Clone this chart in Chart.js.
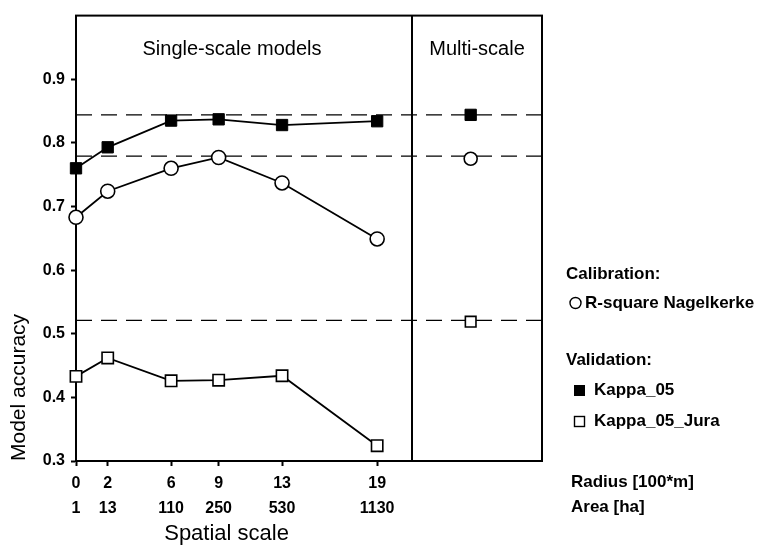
<!DOCTYPE html>
<html>
<head>
<meta charset="utf-8">
<script src="https://cdn.jsdelivr.net/npm/chart.js@4"></script>
<style>
  html, body { margin: 0; padding: 0; background: #fff; }
</style>
</head>
<body>
<canvas id="chart_acc" width="765" height="546"></canvas>
<script>
// spatial scale: radius [100*m] and the matching area [ha]
var radius = [0, 2, 6, 9, 13, 19];
var area = [1, 13, 110, 250, 530, 1130];

// single-scale model accuracy
var kappa05 = [0.760, 0.793, 0.835, 0.837, 0.828, 0.834];
var rsquare = [0.683, 0.724, 0.760, 0.777, 0.737, 0.649];
var kappaJura = [0.433, 0.462, 0.426, 0.427, 0.434, 0.324];

// multi-scale model accuracy
var multiKappa05 = 0.844;
var multiRsquare = 0.775;
var multiKappaJura = 0.519;

// dashed lines = multi-scale level
var refLines = [0.844, 0.779, 0.521];

var yTicks = [0.3, 0.4, 0.5, 0.6, 0.7, 0.8, 0.9];

// x axis layout (radius units)
var xMin = 0, xMax = 29.4;
var dividerX = 21.2;
var multiX = 24.9;

var FONT = '"Liberation Sans", Arial, sans-serif';

function pts(values) {
    return values.map(function (v, i) { return {x: radius[i], y: v}; });
}

// datasets
var datasets = [
    {
        label: 'Kappa_05', data: pts(kappa05),
        borderColor: '#000', borderWidth: 1.8,
        pointStyle: 'rect', pointRadius: 8, pointBackgroundColor: '#000',
        pointBorderColor: '#000', pointBorderWidth: 1
    },
    {
        label: 'R-square Nagelkerke', data: pts(rsquare),
        borderColor: '#000', borderWidth: 1.8,
        pointStyle: 'circle', pointRadius: 7, pointBackgroundColor: '#fff',
        pointBorderColor: '#000', pointBorderWidth: 1.6
    },
    {
        label: 'Kappa_05_Jura', data: pts(kappaJura),
        borderColor: '#000', borderWidth: 1.8,
        pointStyle: 'rect', pointRadius: 8, pointBackgroundColor: '#fff',
        pointBorderColor: '#000', pointBorderWidth: 1.6
    },
    // multi-scale points
    {
        label: 'multi Kappa_05', data: [{x: multiX, y: multiKappa05}], showLine: false,
        pointStyle: 'rect', pointRadius: 8, pointBackgroundColor: '#000',
        pointBorderColor: '#000', pointBorderWidth: 1
    },
    {
        label: 'multi R-square', data: [{x: multiX, y: multiRsquare}], showLine: false,
        pointStyle: 'circle', pointRadius: 6.5, pointBackgroundColor: '#fff',
        pointBorderColor: '#000', pointBorderWidth: 1.6
    },
    {
        label: 'multi Kappa_05_Jura', data: [{x: multiX, y: multiKappaJura}], showLine: false,
        pointStyle: 'rect', pointRadius: 7.5, pointBackgroundColor: '#fff',
        pointBorderColor: '#000', pointBorderWidth: 1.6
    }
];

// dashed reference lines, drawn behind everything
refLines.forEach(function (v, i) {
    datasets.push({
        label: 'ref' + i,
        data: [{x: xMin, y: v}, {x: xMax, y: v}],
        borderColor: '#000', borderWidth: 1.3, borderDash: [16, 9],
        pointRadius: 0, order: 10
    });
});
datasets.forEach(function (d) { d.clip = false; if (d.order === undefined) d.order = 1; });

// box, divider, panel names, x title and the legend on the right
var extras = {
    id: 'extras',
    beforeDatasetsDraw: function (chart) {
        var ctx = chart.ctx, a = chart.chartArea, xs = chart.scales.x;
        ctx.save();
        ctx.strokeStyle = '#000';
        ctx.lineWidth = 2;
        ctx.strokeRect(a.left, a.top, a.right - a.left, a.bottom - a.top);
        var dx = Math.round(xs.getPixelForValue(dividerX));
        ctx.beginPath();
        ctx.moveTo(dx, a.top);
        ctx.lineTo(dx, a.bottom);
        ctx.stroke();
        ctx.restore();
    },
    afterDraw: function (chart) {
        var ctx = chart.ctx, a = chart.chartArea, xs = chart.scales.x, ys = chart.scales.y;
        var dx = xs.getPixelForValue(dividerX);
        ctx.save();
        ctx.fillStyle = '#000';
        ctx.textBaseline = 'middle';
        ctx.textAlign = 'center';
        ctx.font = '20px ' + FONT;
        ctx.fillText('Single-scale models', (a.left + dx) / 2 - 12, ys.getPixelForValue(0.946));
        ctx.fillText('Multi-scale', (dx + a.right) / 2, ys.getPixelForValue(0.946));

        ctx.font = '22px ' + FONT;
        var cx = (xs.getPixelForValue(radius[0]) + xs.getPixelForValue(radius[radius.length - 1])) / 2;
        ctx.fillText('Spatial scale', cx, 534);

        // legend
        ctx.textAlign = 'left';
        ctx.font = 'bold 17px ' + FONT;
        ctx.fillText('Calibration:', 566, 274);
        ctx.lineWidth = 1.4;
        ctx.strokeStyle = '#000';
        ctx.beginPath();
        ctx.arc(575.5, 303, 5.5, 0, Math.PI * 2);
        ctx.stroke();
        ctx.fillText('R-square Nagelkerke', 585, 303);

        ctx.fillText('Validation:', 566, 360);
        ctx.fillRect(574, 385, 11, 11);
        ctx.fillText('Kappa_05', 594, 390);
        ctx.strokeRect(574.5, 416.5, 10, 10);
        ctx.fillText('Kappa_05_Jura', 594, 421);

        ctx.fillText('Radius [100*m]', 571, 482);
        ctx.fillText('Area [ha]', 571, 507);
        ctx.restore();
    }
};

var ctxAcc = document.getElementById('chart_acc').getContext('2d');

var configAcc = {
    type: 'line',
    data: {datasets: datasets},
    options: {
        responsive: false,
        animation: false,
        layout: {padding: {top: 10, right: 223, left: 0, bottom: 0}},
        plugins: {legend: {display: false}, tooltip: {enabled: false}},
        scales: {
            x: {
                type: 'linear', min: xMin, max: xMax,
                afterFit: function (s) { s.height = 85; },
                afterBuildTicks: function (s) {
                    s.ticks = radius.map(function (v) { return {value: v}; });
                },
                grid: {drawOnChartArea: false, tickLength: 5, tickWidth: 2, tickColor: '#000'},
                border: {display: true, color: '#000', width: 2},
                ticks: {
                    color: '#000', padding: 5, maxRotation: 0, autoSkip: false,
                    font: {family: FONT, size: 16, weight: 'bold', lineHeight: 1.56},
                    callback: function (value) {
                        var i = radius.indexOf(value);
                        return [String(radius[i]), String(area[i])];
                    }
                }
            },
            y: {
                min: 0.3, max: 1.0,
                afterFit: function (s) { s.width = 76; },
                afterBuildTicks: function (s) {
                    s.ticks = yTicks.map(function (v) { return {value: v}; });
                },
                grid: {drawOnChartArea: false, tickLength: 5, tickWidth: 2, tickColor: '#000'},
                border: {display: true, color: '#000', width: 2},
                ticks: {
                    color: '#000', padding: 6,
                    font: {family: FONT, size: 16, weight: 'bold'},
                    callback: function (value) { return value.toFixed(1); }
                },
                title: {
                    display: true, text: 'Model accuracy', align: 'start', color: '#000',
                    font: {family: FONT, size: 21}, padding: {top: 7, bottom: 0}
                }
            }
        }
    },
    plugins: [extras]
};

var ChartAcc = new Chart(ctxAcc, configAcc);
</script>
</body>
</html>
